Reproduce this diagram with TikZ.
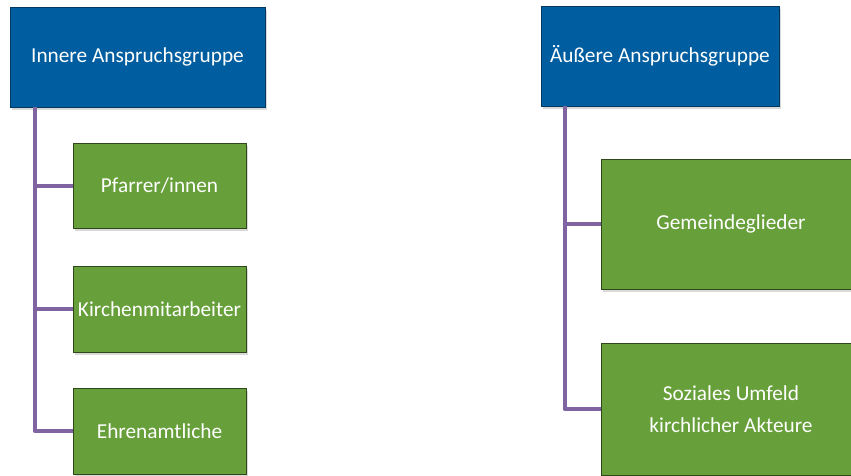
\documentclass[tikz,border=0pt]{standalone}
\usepackage{fontspec}
\setmainfont{Carlito}
\usetikzlibrary{shadows}

\definecolor{headblue}{RGB}{0,94,160}
\definecolor{leafgreen}{RGB}{103,160,58}
\definecolor{linkviolet}{RGB}{128,100,162}

\begin{document}
\begin{tikzpicture}[x=1pt,y=-1pt,
	head/.style={rectangle, fill=headblue, draw=headblue!60!black, line width=0.8pt,
		minimum width=255pt, minimum height=100pt, inner sep=0pt, text=white,
		font=\fontsize{21.3}{26}\selectfont,
		drop shadow={shadow xshift=1.5pt, shadow yshift=-2.5pt, opacity=0.3}},
	leaf/.style={rectangle, fill=leafgreen, draw=leafgreen!45!black, line width=0.8pt,
		inner sep=0pt, text=white, align=center,
		font=\fontsize{21.3}{32}\selectfont,
		drop shadow={shadow xshift=1.5pt, shadow yshift=-2.5pt, opacity=0.3}},
	branch/.style={draw=linkviolet, line width=4pt, line join=round}]

	\useasboundingbox (0,0) rectangle (851,475);

	\node[head] (inner) at (137.5,57) {Innere Anspruchsgruppe};
	\node[head, minimum width=238pt] (outer) at (660,56) {Äußere Anspruchsgruppe};

	\node[leaf, minimum width=173pt, minimum height=85pt] (pfarrer) at (159.5,186) {Pfarrer/innen};
	\node[leaf, minimum width=173pt, minimum height=86pt] (mitarb) at (159.5,309) {Kirchenmitarbeiter};
	\node[leaf, minimum width=173pt, minimum height=86pt] (ehrenamt) at (159.5,431) {Ehrenamtliche};

	\node[leaf, minimum width=260pt, minimum height=130pt] (gemeinde) at (731,224) {Gemeindeglieder};
	\node[leaf, minimum width=260pt, minimum height=132pt] (umfeld) at (731,409) {Soziales Umfeld\\kirchlicher Akteure};

	\draw[branch] ([xshift=25pt]inner.south west) |- (pfarrer.west);
	\draw[branch] ([xshift=25pt]inner.south west) |- (mitarb.west);
	\draw[branch] ([xshift=25pt]inner.south west) |- (ehrenamt.west);

	\draw[branch] ([xshift=24pt]outer.south west) |- (gemeinde.west);
	\draw[branch] ([xshift=24pt]outer.south west) |- (umfeld.west);
\end{tikzpicture}
\end{document}
